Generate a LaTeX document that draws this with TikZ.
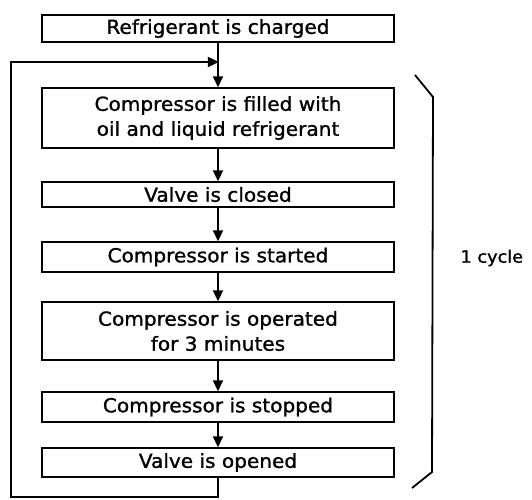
\documentclass[tikz,border=0pt]{standalone}
\usepackage{fontspec}
\setmainfont{DejaVu Sans}[FakeStretch=1.04,FakeBold=1.2]
\usetikzlibrary{arrows.meta,positioning}

\begin{document}
\begin{tikzpicture}[
    x=1pt, y=-1pt,
    >={Triangle[length=11pt,width=10pt]},
    stepbox/.style={
        rectangle,
        draw=black,
        line width=1.4pt,
        minimum width=352pt,
        minimum height=#1,
        inner sep=0pt,
        font=\fontsize{19.3}{25}\selectfont,
        align=center
    },
    flow/.style={
        ->,
        line width=1.8pt
    }
]
\useasboundingbox (0,0) rectangle (532,499);

% Charging, then the repeated steps
\node[stepbox=27pt] (charge) at (218,28.5) {Refrigerant is charged};
\node[stepbox=60pt] (fill) at (218,118) {Compressor is filled with\\oil and liquid refrigerant};
\node[stepbox=25pt] (vclose) at (218,194.5) {Valve is closed};
\node[stepbox=30pt] (start) at (218,257) {Compressor is started};
\node[stepbox=58pt] (operate) at (218,331) {Compressor is operated\\for 3 minutes};
\node[stepbox=30pt] (stop) at (218,407) {Compressor is stopped};
\node[stepbox=29pt] (vopen) at (218,462.5) {Valve is opened};

% Return path of the cycle
\coordinate (join) at (218,62);
\coordinate (low) at (218,497);
\coordinate (lowleft) at (11,497);
\coordinate (upleft) at (11,62);

\draw[line width=1.8pt] (charge) -- (join);
\draw[flow] (join) -- (fill);
\draw[flow] (fill) -- (vclose);
\draw[flow] (vclose) -- (start);
\draw[flow] (start) -- (operate);
\draw[flow] (operate) -- (stop);
\draw[flow] (stop) -- (vopen);
\draw[flow,shorten >=-0.9pt] (vopen) -- (low) -- (lowleft) -- (upleft) -- (join);

% Brace for one cycle
\coordinate (btop) at (415,75);
\coordinate (bbot) at (412,488);
\draw[line width=1.8pt] (btop) -- (433,97) -- (432,472) -- (bbot);
\node[font=\fontsize{17}{20}\selectfont, right=0pt] (cycle) at (457,258) {1 cycle};

\end{tikzpicture}
\end{document}
